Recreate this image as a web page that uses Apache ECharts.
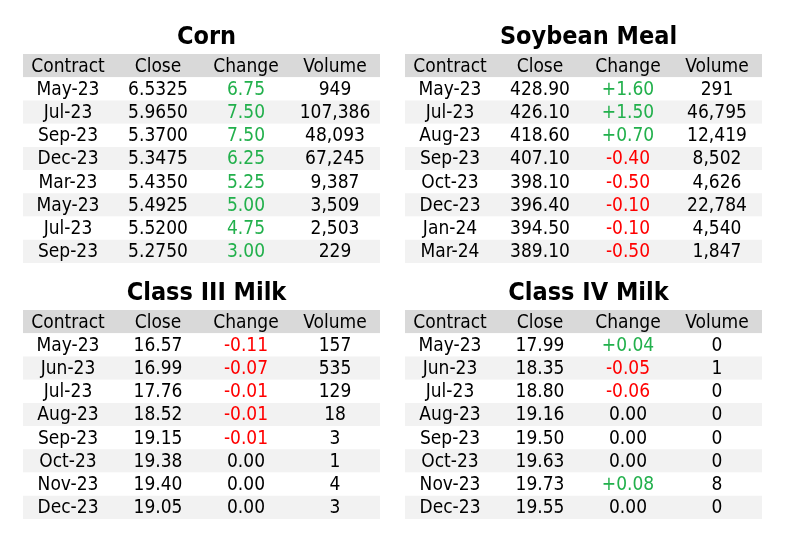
<!DOCTYPE html>
<html>
<head>
<meta charset="utf-8">
<script src="https://cdn.jsdelivr.net/npm/echarts@6/dist/echarts.min.js"></script>
<style>html,body{margin:0;background:#fff}#main{width:785px;height:536px}</style>
</head>
<body>
<div id="main"></div>
<script>
var headers = ['Contract', 'Close', 'Change', 'Volume'];

var cornContracts = ['May-23', 'Jul-23', 'Sep-23', 'Dec-23', 'Mar-23', 'May-23', 'Jul-23', 'Sep-23'];
var cornClose = ['6.5325', '5.9650', '5.3700', '5.3475', '5.4350', '5.4925', '5.5200', '5.2750'];
var cornChange = ['6.75', '7.50', '7.50', '6.25', '5.25', '5.00', '4.75', '3.00'];
var cornVolume = ['949', '107,386', '48,093', '67,245', '9,387', '3,509', '2,503', '229'];

var soyContracts = ['May-23', 'Jul-23', 'Aug-23', 'Sep-23', 'Oct-23', 'Dec-23', 'Jan-24', 'Mar-24'];
var soyClose = ['428.90', '426.10', '418.60', '407.10', '398.10', '396.40', '394.50', '389.10'];
var soyChange = ['+1.60', '+1.50', '+0.70', '-0.40', '-0.50', '-0.10', '-0.10', '-0.50'];
var soyVolume = ['291', '46,795', '12,419', '8,502', '4,626', '22,784', '4,540', '1,847'];

var c3Contracts = ['May-23', 'Jun-23', 'Jul-23', 'Aug-23', 'Sep-23', 'Oct-23', 'Nov-23', 'Dec-23'];
var c3Close = ['16.57', '16.99', '17.76', '18.52', '19.15', '19.38', '19.40', '19.05'];
var c3Change = ['-0.11', '-0.07', '-0.01', '-0.01', '-0.01', '0.00', '0.00', '0.00'];
var c3Volume = ['157', '535', '129', '18', '3', '1', '4', '3'];

var c4Contracts = ['May-23', 'Jun-23', 'Jul-23', 'Aug-23', 'Sep-23', 'Oct-23', 'Nov-23', 'Dec-23'];
var c4Close = ['17.99', '18.35', '18.80', '19.16', '19.50', '19.63', '19.73', '19.55'];
var c4Change = ['+0.04', '-0.05', '-0.06', '0.00', '0.00', '0.00', '+0.08', '0.00'];
var c4Volume = ['0', '1', '0', '0', '0', '0', '8', '0'];

var FONT = '"Liberation Sans Narrow", "DejaVu Sans Condensed", sans-serif';
var colX = [45, 135, 223, 312];
var W = 357;

var tables = [
  { title: 'Corn', left: 23, top: 54, cols: [cornContracts, cornClose, cornChange, cornVolume] },
  { title: 'Soybean Meal', left: 405, top: 54, cols: [soyContracts, soyClose, soyChange, soyVolume] },
  { title: 'Class III Milk', left: 23, top: 310, cols: [c3Contracts, c3Close, c3Change, c3Volume] },
  { title: 'Class IV Milk', left: 405, top: 310, cols: [c4Contracts, c4Close, c4Change, c4Volume] }
];

function changeColor(s) {
  var v = parseFloat(s);
  return v > 0 ? '#22b04c' : (v < 0 ? '#ff0000' : '#000');
}

var option = { animation: false, title: [], grid: [], xAxis: [], yAxis: [], series: [] };

tables.forEach(function (t, i) {
  var rows = [headers];
  for (var r = 0; r < t.cols[0].length; r++) {
    rows.push([t.cols[0][r], t.cols[1][r], t.cols[2][r], t.cols[3][r]]);
  }
  option.title.push({
    text: t.title, left: t.left + W / 2, top: t.top - 34, textAlign: 'center',
    textStyle: { fontFamily: FONT, fontSize: 25, fontWeight: 'bold', color: '#000' }
  });
  option.grid.push({ left: t.left, top: t.top, width: W, height: 209 });
  option.xAxis.push({ gridIndex: i, type: 'value', min: 0, max: W, show: false });
  option.yAxis.push({ gridIndex: i, type: 'category', inverse: true, show: false,
    data: rows.map(function (_, k) { return k; }) });
  option.series.push({
    type: 'custom', xAxisIndex: i, yAxisIndex: i,
    data: rows.map(function (row, k) { return [0, k]; }),
    renderItem: function (params, api) {
      var k = api.value(1);
      var row = rows[k];
      var p = api.coord([0, k]);
      var h = api.size([0, 1])[1];
      var fill = k === 0 ? '#d9d9d9' : (k % 2 === 0 ? '#f2f2f2' : '#fff');
      var children = [{
        type: 'rect', shape: { x: p[0], y: p[1] - h / 2, width: W, height: h },
        style: { fill: fill }
      }];
      row.forEach(function (txt, c) {
        var q = api.coord([colX[c], k]);
        children.push({
          type: 'text', x: q[0], y: q[1] + 1,
          style: {
            text: txt, align: 'center', verticalAlign: 'middle',
            font: '19px ' + FONT,
            fill: (k > 0 && c === 2) ? changeColor(txt) : '#000'
          }
        });
      });
      return { type: 'group', children: children };
    }
  });
});

var chart = echarts.init(document.getElementById('main'));
chart.setOption(option);
</script>
</body>
</html>
